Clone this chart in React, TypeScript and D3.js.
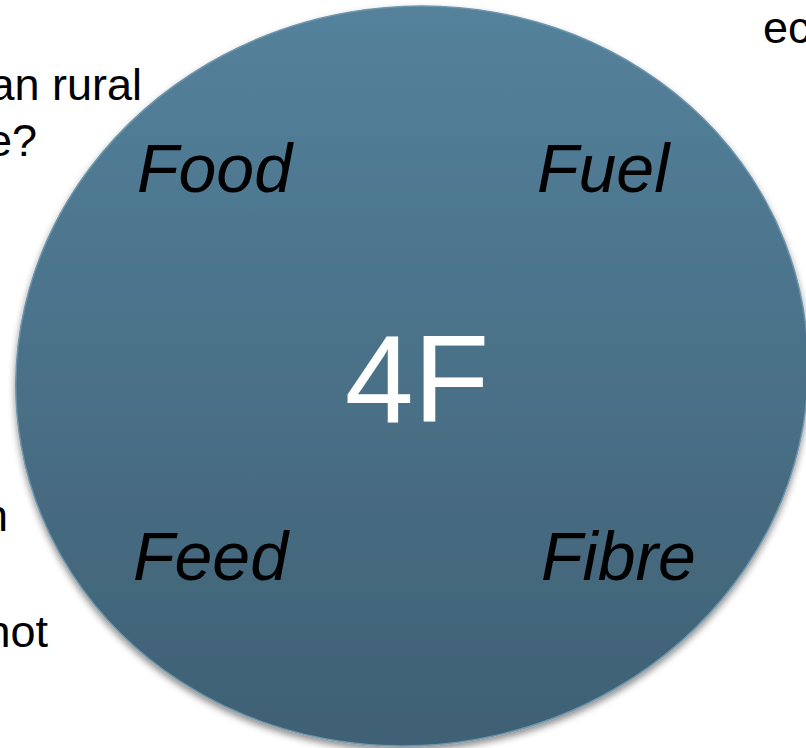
import React, { useRef, useEffect } from "react";
import * as d3 from "d3";

// the four F's around the centre label
const cornerLabels = ["Food", "Fuel", "Feed", "Fibre"];
const cornerCols = ["left", "right", "left", "right"];
const cornerRows = ["top", "top", "bottom", "bottom"];
const centreLabel = "4F";

// slide text partly hidden behind the circle
const backText = ["an rural", "e?", "ec", "n", "not"];
const backAnchor = ["end", "end", "start", "end", "end"];

const gradientStops = ["#54819b", "#3f6074"];

const App = () => {
  const ref = useRef<SVGSVGElement>(null);
  const width = 806;
  const height = 748;

  useEffect(() => {
    const svg = d3.select(ref.current);
    svg.selectAll("*").remove();

    const rx = 397;
    const ry = 369;
    const tilt = -10;

    const defs = svg.append("defs");
    // gradient lives in the ellipse's rotated space, so turn it back upright
    const grad = defs
      .append("linearGradient")
      .attr("id", "disc")
      .attr("gradientUnits", "userSpaceOnUse")
      .attr("gradientTransform", `rotate(${-tilt})`)
      .attr("x1", 0)
      .attr("y1", -ry)
      .attr("x2", 0)
      .attr("y2", ry);
    grad
      .selectAll("stop")
      .data(gradientStops)
      .enter()
      .append("stop")
      .attr("offset", (d, i) => i)
      .attr("stop-color", (d) => d);

    const shadow = defs
      .append("filter")
      .attr("id", "shadow")
      .attr("x", "-10%")
      .attr("y", "-10%")
      .attr("width", "120%")
      .attr("height", "120%");
    shadow
      .append("feDropShadow")
      .attr("dx", 0)
      .attr("dy", 4)
      .attr("stdDeviation", 3.5)
      .attr("flood-color", "#000")
      .attr("flood-opacity", 0.45);

    // background words (drawn first so the circle covers them)
    const backX = d3.scaleOrdinal<string, number>().domain(backText).range([142, 37, 763, 8, 48]);
    const backY = d3.scaleOrdinal<string, number>().domain(backText).range([100, 156, 43, 531, 647]);
    svg
      .append("g")
      .selectAll("text")
      .data(backText)
      .enter()
      .append("text")
      .attr("x", (d) => backX(d))
      .attr("y", (d) => backY(d))
      .attr("text-anchor", (d, i) => backAnchor[i])
      .attr("font-family", "Liberation Sans, Arial, sans-serif")
      .attr("font-size", 45)
      .attr("fill", "#000")
      .text((d) => d);

    const cx = 412;
    const cy = 376;
    svg
      .append("g")
      .attr("filter", "url(#shadow)")
      .append("ellipse")
      .attr("cx", 0)
      .attr("cy", 0)
      .attr("rx", rx)
      .attr("ry", ry)
      .attr("transform", `translate(${cx},${cy}) rotate(${tilt})`)
      .attr("fill", "url(#disc)")
      .attr("stroke", "#6d95ab")
      .attr("stroke-width", 1.5);

    const xScale = d3.scalePoint().domain(["left", "right"]).range([137, 537]);
    const yScale = d3.scalePoint().domain(["top", "bottom"]).range([192, 580]);

    svg
      .append("g")
      .selectAll("text")
      .data(cornerLabels)
      .enter()
      .append("text")
      .attr("x", (d, i) => xScale(cornerCols[i])! + (d === "Feed" ? -4 : d === "Fibre" ? 4 : 0))
      .attr("y", (d, i) => yScale(cornerRows[i])!)
      .attr("font-family", "Liberation Sans, Arial, sans-serif")
      .attr("font-style", "italic")
      .attr("font-size", 68)
      .attr("fill", "#000")
      .text((d) => d);

    svg
      .append("text")
      .attr("x", 417)
      .attr("y", 422)
      .attr("text-anchor", "middle")
      .attr("font-family", "Liberation Sans, Arial, sans-serif")
      .attr("font-size", 124)
      .attr("fill", "#fff")
      .text(centreLabel);
  }, []);

  return (
    <svg
      ref={ref}
      width={width}
      height={height}
      style={{ position: "fixed", left: 0, top: 0, background: "#fff" }}
    ></svg>
  );
};

export default App;
